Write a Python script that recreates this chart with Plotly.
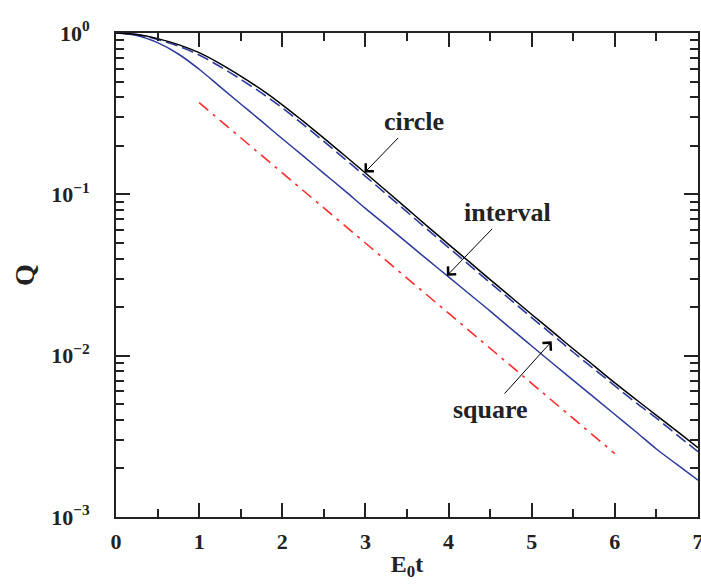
import numpy as np
import plotly.graph_objects as go

# ---- data ----
t = [0, 0.25, 0.5, 0.75, 1, 1.25, 1.5, 1.75, 2, 2.25, 2.5, 2.75, 3, 3.25, 3.5,
     3.75, 4, 4.25, 4.5, 4.75, 5, 5.25, 5.5, 5.75, 6, 6.25, 6.5, 6.75, 7]

q_circle = [1.0, 0.979, 0.923, 0.847, 0.755, 0.646, 0.540, 0.445, 0.359, 0.284,
            0.223, 0.174, 0.1355, 0.1052, 0.0815, 0.0631, 0.0490, 0.0381, 0.0296,
            0.0231, 0.0180, 0.0141, 0.0110, 0.00865, 0.00678, 0.00537, 0.00427,
            0.00339, 0.00269]

q_square = [1.0, 0.977, 0.912, 0.828, 0.731, 0.620, 0.516, 0.425, 0.343, 0.271,
            0.213, 0.166, 0.1294, 0.1005, 0.0778, 0.0603, 0.0468, 0.0364, 0.0283,
            0.0221, 0.0172, 0.01347, 0.0105, 0.00826, 0.0065, 0.00513, 0.0041,
            0.00322, 0.00254]

q_interval = [1.0, 0.966, 0.871, 0.741, 0.596, 0.465, 0.363, 0.284, 0.221, 0.173,
              0.135, 0.1054, 0.0818, 0.0642, 0.0502, 0.0392, 0.0308, 0.0241, 0.0189,
              0.0147, 0.01148, 0.00897, 0.00703, 0.00551, 0.00432, 0.00339, 0.00264,
              0.00211, 0.00169]

t_fit = [1, 6]
q_fit = [0.37, 0.00247]

x_ticks = [0, 1, 2, 3, 4, 5, 6, 7]
y_ticks = [1, 0.1, 0.01, 0.001]
y_ticktext = ["10<sup>0</sup>", "10<sup>−1</sup>", "10<sup>−2</sup>", "10<sup>−3</sup>"]

# annotations: label, text position (t, Q), arrow tip (t, Q)
labels = ["circle", "interval", "square"]
label_pos = [(3.58, 0.281), (4.71, 0.0768), (4.50, 0.00463)]
arrow_tip = [(2.99, 0.1364), (3.98, 0.0313), (5.24, 0.01227)]

BLUE = "#2b3a9c"
INK = "#222222"
FONT = "Liberation Serif"

fig = go.Figure()
fig.add_trace(go.Scatter(x=t_fit, y=q_fit, mode="lines",
                         line=dict(color="#ff2a2a", width=1.6, dash="12px,6px,3px,6px")))
fig.add_trace(go.Scatter(x=t, y=q_interval, mode="lines", line_shape="spline",
                         line=dict(color=BLUE, width=1.5)))
fig.add_trace(go.Scatter(x=t, y=q_square, mode="lines", line_shape="spline",
                         line=dict(color=BLUE, width=1.6, dash="12px,5px")))
fig.add_trace(go.Scatter(x=t, y=q_circle, mode="lines", line_shape="spline",
                         line=dict(color="black", width=1.5)))

for lab, (tx, ty), (px, py) in zip(labels, label_pos, arrow_tip):
    fig.add_annotation(x=px, y=np.log10(py), ax=tx, ay=np.log10(ty),
                       xref="x", yref="y", axref="x", ayref="y",
                       text="<b>" + lab + "</b>", showarrow=True,
                       arrowhead=4, arrowsize=2.2, arrowwidth=1, arrowcolor="black",
                       font=dict(family=FONT, size=26, color=INK))

fig.update_layout(
    width=701, height=585,
    margin=dict(l=116, r=3, t=33, b=68),
    paper_bgcolor="white", plot_bgcolor="white",
    showlegend=False,
    font=dict(family=FONT, color=INK),
)
fig.update_xaxes(
    range=[0, 7], tickvals=x_ticks, ticks="inside", ticklen=14, tickwidth=2,
    tickcolor=INK, showline=True, linecolor=INK, linewidth=2, mirror="ticks",
    showgrid=False, zeroline=False, automargin=False, ticklabelstandoff=4,
    ticklabeloverflow="allow",
    tickfont=dict(family=FONT, size=22, weight="bold", color=INK),
    minor=dict(ticks="inside", ticklen=8, tickwidth=1.5, tickcolor=INK, dtick=0.5,
               showgrid=False),
    title=dict(text="<b>E<sub>0</sub>t</b>", font=dict(family=FONT, size=24, color=INK),
               standoff=2),
)
fig.update_yaxes(
    type="log", range=[-3, 0], tickvals=y_ticks, ticktext=y_ticktext,
    ticks="inside", ticklen=14, tickwidth=2, tickcolor=INK,
    showline=True, linecolor=INK, linewidth=2, mirror="ticks",
    showgrid=False, zeroline=False, ticklabelstandoff=20, automargin=False,
    ticklabeloverflow="allow",
    tickfont=dict(family=FONT, size=22, weight="bold", color=INK),
    minor=dict(ticks="inside", ticklen=8, tickwidth=1.5, tickcolor=INK, dtick="D1",
               showgrid=False),
    title=dict(text="<b>Q</b>", font=dict(family=FONT, size=28, color=INK), standoff=8),
)

# remove the page's default body margin and scrollbars so the 701x585 figure fills the window
fig.write_html("out.html",
               config={"displayModeBar": False},
               post_script="document.body.style.margin='0';"
                           "document.body.style.overflow='hidden';"
                           "document.documentElement.style.overflow='hidden';")
